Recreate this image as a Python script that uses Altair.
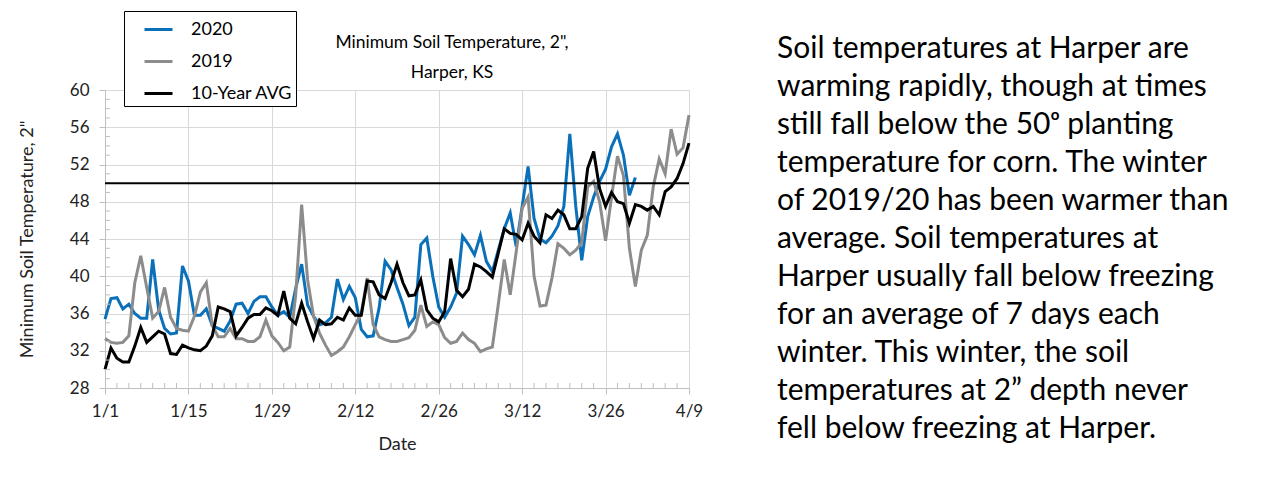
import altair as alt
import pandas as pd

# ---- data -------------------------------------------------------------
tick_days = [0, 14, 28, 42, 56, 70, 84, 98]
tick_labels = ["1/1", "1/15", "1/29", "2/12", "2/26", "3/12", "3/26", "4/9"]

t2020 = [35.4, 37.6, 37.7, 36.5, 37.0, 36.0, 35.5, 35.5, 41.8, 36.4,
         34.4, 33.8, 33.9, 41.1, 39.5, 35.8, 35.8, 36.5, 34.7, 34.4,
         34.1, 35.2, 37.0, 37.1, 36.0, 37.3, 37.8, 37.8, 36.7, 35.8,
         36.2, 35.6, 38.7, 41.3, 36.9, 35.7, 34.8, 35.0, 35.6, 39.7,
         37.5, 38.9, 37.7, 34.3, 33.5, 33.6, 36.6, 41.6, 40.7, 38.8,
         37.0, 34.7, 35.6, 43.4, 44.1, 40.0, 36.7, 35.6, 36.7, 38.2,
         44.3, 43.4, 42.3, 44.4, 41.6, 40.5, 42.8, 45.1, 46.8, 43.2,
         47.5, 51.8, 46.2, 44.0, 43.6, 44.3, 45.4, 47.5, 55.3, 47.5,
         41.7, 46.4, 48.5, 50.2, 51.5, 53.9, 55.3, 53.0, 48.7, 50.6]

t2019 = [33.3, 32.9, 32.8, 32.9, 33.6, 39.3, 42.2, 38.8, 35.5, 36.2,
         38.8, 35.6, 34.4, 34.2, 34.1, 35.7, 38.3, 39.3, 34.7, 33.5,
         33.5, 34.4, 33.3, 33.3, 33.0, 33.0, 33.5, 35.3, 33.6, 32.9,
         32.0, 32.4, 38.0, 47.7, 39.6, 35.7, 33.9, 32.6, 31.5, 31.9,
         32.4, 33.5, 34.8, 36.0, 39.8, 34.8, 33.5, 33.2, 33.0, 33.0,
         33.2, 33.4, 34.2, 36.9, 34.6, 35.1, 34.8, 33.4, 32.8, 33.0,
         33.9, 33.2, 32.8, 31.9, 32.2, 32.4, 37.0, 41.8, 38.0, 42.6,
         47.3, 48.5, 40.0, 36.8, 36.9, 39.8, 43.5, 43.0, 42.3, 42.8,
         43.6, 49.6, 50.2, 48.0, 43.8, 48.5, 52.9, 50.8, 43.0, 38.9,
         42.8, 44.4, 49.6, 52.6, 51.0, 55.8, 53.1, 53.8, 57.3]

tavg = [30.0, 32.3, 31.2, 30.8, 30.8, 32.5, 34.5, 32.9, 33.5, 34.1,
        33.8, 31.7, 31.6, 32.6, 32.3, 32.1, 32.0, 32.5, 33.6, 36.7,
        36.5, 36.2, 33.6, 34.5, 35.5, 35.9, 35.9, 36.6, 36.3, 35.8,
        38.4, 35.5, 34.9, 37.1, 35.1, 33.3, 35.3, 34.8, 34.9, 35.6,
        35.3, 36.6, 35.8, 35.8, 39.5, 39.4, 38.0, 37.6, 39.3, 41.3,
        39.3, 37.9, 38.0, 39.6, 36.4, 35.5, 35.1, 36.2, 41.9, 38.5,
        37.8, 38.6, 41.3, 41.0, 40.5, 39.9, 42.5, 45.1, 44.6, 44.5,
        43.9, 45.7, 44.3, 43.6, 46.6, 46.2, 47.1, 46.6, 45.1, 45.1,
        46.4, 51.6, 53.4, 49.4, 47.5, 49.0, 48.0, 47.8, 45.7, 47.7,
        47.5, 47.1, 47.5, 46.6, 49.1, 49.6, 50.5, 52.1, 54.3]

series_names = ["2020", "2019", "10-Year AVG"]
series_colors = ["#0A70BA", "#8C8C8C", "#000000"]
planting_temp = [50]

y_major = list(range(28, 61, 4))
y_minor = [v for v in range(29, 60) if v % 4 != 0]
x_minor = [d for d in range(2, 98, 2) if d % 14 != 0]

title_lines = "Minimum Soil Temperature, 2\",\nHarper, KS"
paragraph = "\n".join([
    "Soil temperatures at Harper are",
    "warming rapidly, though at times",
    "still fall below the 50\u1d52 planting",
    "temperature for corn. The winter",
    "of 2019/20 has been warmer than",
    "average.  Soil temperatures at",
    "Harper usually fall below freezing",
    "for an average of 7 days each",
    "winter. This winter, the soil",
    "temperatures at 2\u201d depth never",
    "fell below freezing at Harper.",
])

# ---- tables -----------------------------------------------------------
rows = []
for name, vals in zip(series_names, [t2020, t2019, tavg]):
    for d, v in enumerate(vals):
        rows.append({"day": d, "temp": v, "series": name})
df = pd.DataFrame(rows)

FONT = "Lato"
W, H = 584, 298
label_expr = "{" + ",".join(f"'{d}':'{l}'" for d, l in zip(tick_days, tick_labels)) + "}[datum.value]"

x_axis = alt.Axis(values=tick_days, labelExpr=label_expr, grid=True,
                  gridColor="#d9d9d9", tickSize=6, tickColor="#bfbfbf",
                  domainColor="#bfbfbf", labelFontSize=17, labelFont=FONT,
                  labelColor="#222222", labelPadding=9, labelFlush=False,
                  labelOverlap=False, title="Date",
                  titleFontSize=18, titleFont=FONT, titleFontWeight="normal",
                  titleColor="#222222", titlePadding=16)
y_axis = alt.Axis(values=y_major, grid=True, gridColor="#d9d9d9",
                  tickSize=6, tickColor="#bfbfbf", domainColor="#bfbfbf",
                  labelFontSize=17, labelFont=FONT, labelColor="#222222",
                  labelPadding=10, labelOverlap=False, labelFlush=False,
                  title='Minimum Soil Temperature, 2"',
                  titleFontSize=18, titleFont=FONT, titleFontWeight="normal",
                  titleColor="#222222", titlePadding=33)
x_scale = alt.Scale(domain=[0, 98], nice=False, zero=False)
y_scale = alt.Scale(domain=[28, 60], nice=False, zero=False)

lines = alt.Chart(df).mark_line(strokeWidth=3).encode(
    x=alt.X("day:Q", scale=x_scale, axis=x_axis),
    y=alt.Y("temp:Q", scale=y_scale, axis=y_axis),
    color=alt.Color("series:N", sort=series_names,
                    scale=alt.Scale(domain=series_names, range=series_colors),
                    legend=alt.Legend(title=None, orient="none", legendX=19, legendY=-79,
                                      strokeColor="black", fillColor="white", padding=3,
                                      labelFontSize=18, labelFont=FONT, labelColor="black",
                                      symbolType="stroke", symbolStrokeWidth=3,
                                      symbolSize=784, rowPadding=7,
                                      symbolOffset=16, labelOffset=17)),
)

ref = alt.Chart(pd.DataFrame({"temp": planting_temp})).mark_rule(
    color="black", strokeWidth=2).encode(
    y=alt.Y("temp:Q", scale=y_scale, axis=y_axis))

ytick = alt.Chart(pd.DataFrame({"temp": y_minor})).mark_rule(
    color="#bfbfbf").encode(y=alt.Y("temp:Q", scale=y_scale, axis=y_axis),
                            x=alt.value(0), x2=alt.value(5))
xtick = alt.Chart(pd.DataFrame({"day": x_minor})).mark_rule(
    color="#bfbfbf").encode(x=alt.X("day:Q", scale=x_scale, axis=x_axis),
                            y=alt.value(H), y2=alt.value(H - 5))

title = alt.Chart(pd.DataFrame({"t": [title_lines]})).mark_text(
    align="center", baseline="top", lineBreak="\n", lineHeight=30,
    fontSize=17.5, font=FONT, color="black").encode(
    text="t:N", x=alt.value(347), y=alt.value(-56))

para = alt.Chart(pd.DataFrame({"t": [paragraph]})).mark_text(
    align="left", baseline="top", lineBreak="\n", lineHeight=38,
    fontSize=30, font=FONT, color="black").encode(
    text="t:N", x=alt.value(672), y=alt.value(-56))

chart = alt.layer(lines, ytick, xtick, ref, title, para).properties(
    width=W, height=H,
    autosize=alt.AutoSizeParams(type="none"),
    padding={"left": 97, "top": 82, "right": 583, "bottom": 84},
).configure_view(stroke=None).configure(background="white")

chart.save("out.html", embed_options={"renderer": "svg", "actions": False})
